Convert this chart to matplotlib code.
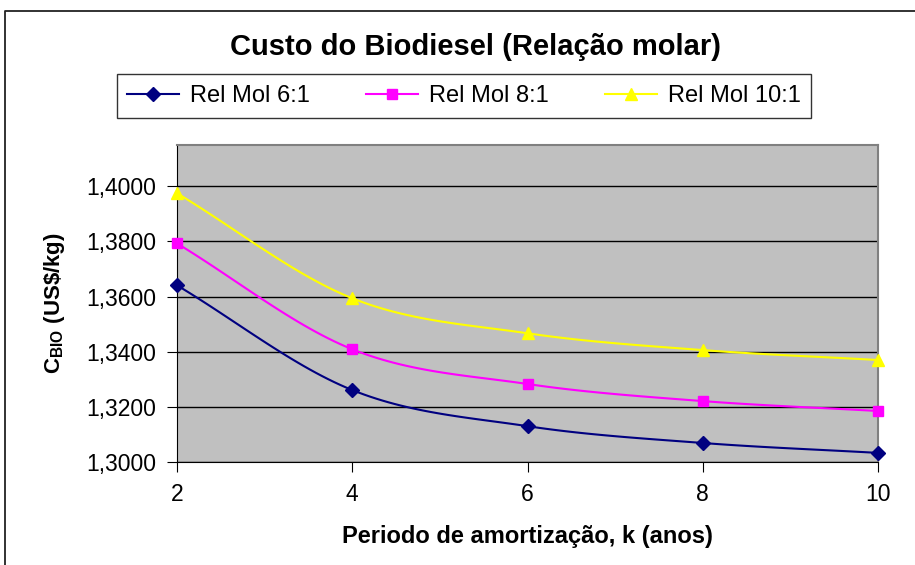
import numpy as np
import matplotlib.pyplot as plt
from matplotlib.ticker import FuncFormatter
from matplotlib.lines import Line2D

plt.rcParams['font.family'] = ['Liberation Sans', 'DejaVu Sans']
plt.rcParams['mathtext.fontset'] = 'custom'
plt.rcParams['mathtext.rm'] = 'Liberation Sans:bold'
plt.rcParams['mathtext.bf'] = 'Liberation Sans:bold'

k_anos = [2, 4, 6, 8, 10]
rel_6 = [1.3641, 1.3261, 1.3130, 1.3069, 1.3033]
rel_8 = [1.3793, 1.3409, 1.3283, 1.3221, 1.3185]
rel_10 = [1.3975, 1.3594, 1.3467, 1.3406, 1.3370]
labels = ['Rel Mol 6:1', 'Rel Mol 8:1', 'Rel Mol 10:1']


def smooth(x, y, n=30):
    # Catmull-Rom curve through the points, like a smoothed spreadsheet line
    x = np.asarray(x, float)
    y = np.asarray(y, float)
    px = np.concatenate([[2 * x[0] - x[1]], x, [2 * x[-1] - x[-2]]])
    py = np.concatenate([[2 * y[0] - y[1]], y, [2 * y[-1] - y[-2]]])
    xs, ys = [], []
    t = np.linspace(0, 1, n)
    for i in range(1, len(px) - 2):
        for p, out in ((px, xs), (py, ys)):
            p0, p1, p2, p3 = p[i - 1], p[i], p[i + 1], p[i + 2]
            out.extend(0.5 * ((2 * p1) + (-p0 + p2) * t
                              + (2 * p0 - 5 * p1 + 4 * p2 - p3) * t ** 2
                              + (-p0 + 3 * p1 - 3 * p2 + p3) * t ** 3))
    return xs, ys


fig = plt.figure(figsize=(9.15, 5.65), dpi=100)
# chart frame: only the left and top edges fall inside the image
top = 1 - 11 / 565
left = 5 / 915
fig.lines.append(Line2D([left, left, 1.0], [0.0, top, top], transform=fig.transFigure,
                        color='#222222', linewidth=1.3))

ax = fig.add_axes([177 / 915, 1 - 462 / 565, (878 - 177) / 915, (462 - 145) / 565])
ax.set_facecolor('#C0C0C0')

series = [(rel_6, '#000080', 'D', 7), (rel_8, '#FF00FF', 's', 7.5), (rel_10, '#FFFF00', '^', 9)]
for (vals, color, marker, ms), lab in zip(series, labels):
    sx, sy = smooth(k_anos, vals)
    ax.plot(sx, sy, color=color, linewidth=1.5, zorder=3)
    ax.plot(k_anos, vals, linestyle='none', marker=marker, markersize=ms,
            color=color, zorder=4, clip_on=False)
    ax.plot([], [], color=color, marker=marker, markersize=ms, linewidth=1.5, label=lab)

ax.set_xlim(2, 10)
ax.set_ylim(1.30, 1.415)
ax.set_xticks([2, 4, 6, 8, 10])
ax.set_yticks(np.arange(1.30, 1.4001, 0.02))
ax.yaxis.set_major_formatter(FuncFormatter(lambda v, p: f'{v:.4f}'.replace('.', ',')))
ax.grid(axis='y', color='black', linewidth=1)
ax.set_axisbelow(True)
ax.tick_params(direction='out', length=7, labelsize=16.5, color='black', pad=8)
for s in ('top', 'right'):
    ax.spines[s].set_color('#808080')
    ax.spines[s].set_linewidth(1.5)
for s in ('left', 'bottom'):
    ax.spines[s].set_color('black')

ax.set_xlabel('Periodo de amortização, k (anos)', fontsize=17, fontweight='bold', labelpad=14)
ax.set_ylabel(r'C$_{\mathrm{BIO}}$ (US\$/kg)', fontsize=16, fontweight='bold', labelpad=14)

fig.text(0.52, 1 - 47 / 565, 'Custo do Biodiesel (Relação molar)', ha='center', va='center',
         fontsize=21, fontweight='bold')
fig.legend(loc='center', bbox_to_anchor=(464 / 915, 1 - 96 / 565), ncol=3, fontsize=17,
           frameon=True, fancybox=False, edgecolor='black', handlelength=2.2,
           columnspacing=2.4, handletextpad=0.45, borderpad=0.45)

fig.savefig('out.png', dpi=100)
